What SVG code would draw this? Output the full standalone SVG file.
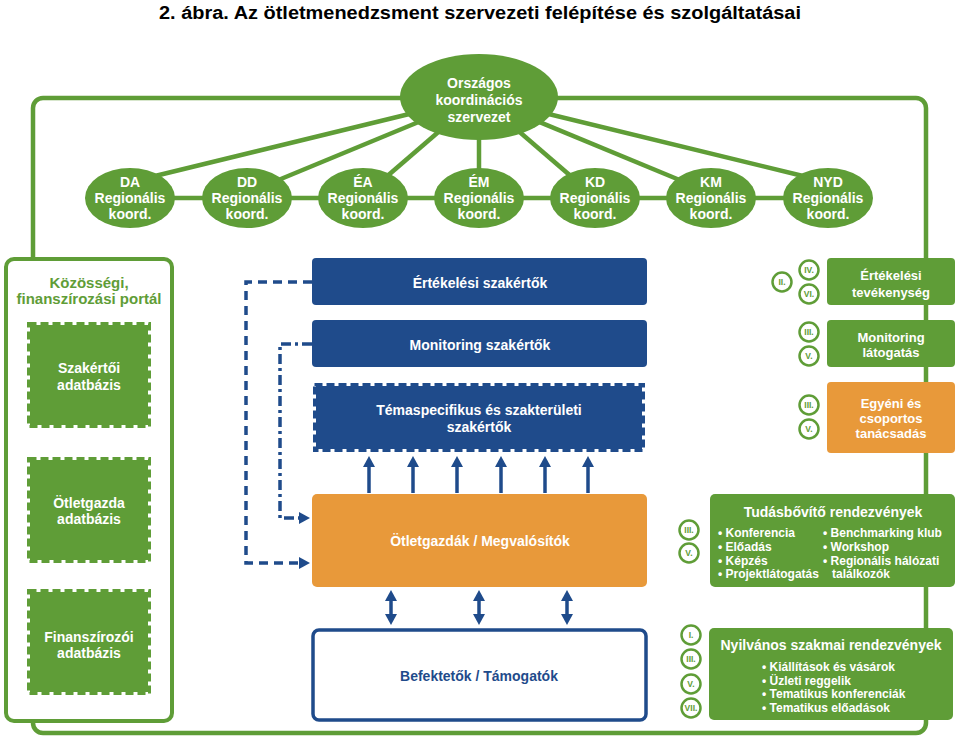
<svg xmlns="http://www.w3.org/2000/svg" width="960" height="741" viewBox="0 0 960 741">
<defs>
<style>
.t{font-family:"Liberation Sans",Arial,sans-serif;font-weight:bold;text-anchor:middle;fill:#fff}
.tl{font-family:"Liberation Sans",Arial,sans-serif;font-weight:bold;fill:#fff}
.gf{fill:#5f9d37}
.bf{fill:#1f4b8b}
.of{fill:#e8993a}
.ray{stroke:#5f9d37;stroke-width:4.5;fill:none}
.sb{fill:none;stroke-width:3;stroke-dasharray:8 4}
.num circle{fill:#fff;stroke:#5f9d37;stroke-width:2.5}
.num text{font-family:"Liberation Sans",Arial,sans-serif;font-weight:bold;font-size:8.5px;fill:#5f9d37;text-anchor:middle}
.con{stroke:#1f4b8b;stroke-width:3.5;fill:none}
</style>
<marker id="ah" markerUnits="userSpaceOnUse" markerWidth="11" markerHeight="12" viewBox="0 0 11 12" refX="0" refY="6" orient="auto-start-reverse">
<path d="M0,0 L11,6 L0,12 Z" fill="#1f4b8b"/>
</marker>
</defs>

<rect width="960" height="741" fill="#fff"/>

<text x="480" y="19" font-family="'Liberation Sans',Arial,sans-serif" font-weight="bold" font-size="18" text-anchor="middle" textLength="642" lengthAdjust="spacingAndGlyphs" fill="#000">2. ábra. Az ötletmenedzsment szervezeti felépítése és szolgáltatásai</text>

<g id="frame">
<rect x="33" y="98" width="893" height="635" rx="10" class="ray"/>
</g>

<g id="connectors">
<line class="ray" x1="479" y1="97" x2="155" y2="176"/>
<line class="ray" x1="479" y1="97" x2="276" y2="181"/>
<line class="ray" x1="479" y1="97" x2="385" y2="178"/>
<line class="ray" x1="479" y1="97" x2="479" y2="178"/>
<line class="ray" x1="479" y1="97" x2="573" y2="178"/>
<line class="ray" x1="479" y1="97" x2="682" y2="181"/>
<line class="ray" x1="479" y1="97" x2="803" y2="176"/>
<line class="ray" x1="130" y1="198" x2="828" y2="198"/>
<path class="con" d="M312,282 H246 V563 H299" stroke-dasharray="9 6" marker-end="url(#ah)"/>
<path class="con" d="M312,344 H280 V518 H299" stroke-dasharray="10 4 3 4" marker-end="url(#ah)"/>
<line class="con" x1="369" y1="493" x2="369" y2="467" marker-end="url(#ah)"/>
<line class="con" x1="413" y1="493" x2="413" y2="467" marker-end="url(#ah)"/>
<line class="con" x1="457" y1="493" x2="457" y2="467" marker-end="url(#ah)"/>
<line class="con" x1="501" y1="493" x2="501" y2="467" marker-end="url(#ah)"/>
<line class="con" x1="545" y1="493" x2="545" y2="467" marker-end="url(#ah)"/>
<line class="con" x1="588" y1="493" x2="588" y2="467" marker-end="url(#ah)"/>
<line class="con" x1="391" y1="601" x2="391" y2="614" marker-start="url(#ah)" marker-end="url(#ah)"/>
<line class="con" x1="479" y1="601" x2="479" y2="614" marker-start="url(#ah)" marker-end="url(#ah)"/>
<line class="con" x1="567" y1="601" x2="567" y2="614" marker-start="url(#ah)" marker-end="url(#ah)"/>
</g>

<g id="orszagos">
<ellipse class="gf" cx="479" cy="97" rx="79" ry="43"/>
<text class="t" font-size="14" x="479" y="88">Országos</text>
<text class="t" font-size="14" x="479" y="105">koordinációs</text>
<text class="t" font-size="14" x="479" y="122">szervezet</text>
</g>

<g id="reg-da"><ellipse class="gf" cx="130" cy="198" rx="45" ry="30"/>
<text class="t" font-size="14" x="130" y="187">DA</text><text class="t" font-size="14" x="130" y="203">Regionális</text><text class="t" font-size="14" x="130" y="219">koord.</text></g>
<g id="reg-dd"><ellipse class="gf" cx="247" cy="198" rx="45" ry="30"/>
<text class="t" font-size="14" x="247" y="187">DD</text><text class="t" font-size="14" x="247" y="203">Regionális</text><text class="t" font-size="14" x="247" y="219">koord.</text></g>
<g id="reg-ea"><ellipse class="gf" cx="363" cy="198" rx="45" ry="30"/>
<text class="t" font-size="14" x="363" y="187">ÉA</text><text class="t" font-size="14" x="363" y="203">Regionális</text><text class="t" font-size="14" x="363" y="219">koord.</text></g>
<g id="reg-em"><ellipse class="gf" cx="479" cy="198" rx="45" ry="30"/>
<text class="t" font-size="14" x="479" y="187">ÉM</text><text class="t" font-size="14" x="479" y="203">Regionális</text><text class="t" font-size="14" x="479" y="219">koord.</text></g>
<g id="reg-kd"><ellipse class="gf" cx="595" cy="198" rx="45" ry="30"/>
<text class="t" font-size="14" x="595" y="187">KD</text><text class="t" font-size="14" x="595" y="203">Regionális</text><text class="t" font-size="14" x="595" y="219">koord.</text></g>
<g id="reg-km"><ellipse class="gf" cx="711" cy="198" rx="45" ry="30"/>
<text class="t" font-size="14" x="711" y="187">KM</text><text class="t" font-size="14" x="711" y="203">Regionális</text><text class="t" font-size="14" x="711" y="219">koord.</text></g>
<g id="reg-nyd"><ellipse class="gf" cx="828" cy="198" rx="45" ry="30"/>
<text class="t" font-size="14" x="828" y="187">NYD</text><text class="t" font-size="14" x="828" y="203">Regionális</text><text class="t" font-size="14" x="828" y="219">koord.</text></g>

<g id="portal">
<rect x="6" y="259" width="166" height="462" rx="8" fill="#fff" stroke="#5f9d37" stroke-width="4"/>
<text class="t" font-size="15" x="89" y="288" style="fill:#5f9d37">Közösségi,</text>
<text class="t" font-size="15" x="89" y="304" style="fill:#5f9d37">finanszírozási portál</text>
</g>
<g id="szakertoi-db">
<rect class="gf" x="30" y="325" width="118" height="100"/>
<rect class="sb" x="28.5" y="323.5" width="121" height="103" stroke="#5f9d37"/>
<text class="t" font-size="14" x="89" y="373">Szakértői</text>
<text class="t" font-size="14" x="89" y="390">adatbázis</text>
</g>
<g id="otletgazda-db">
<rect class="gf" x="30" y="460" width="118" height="100"/>
<rect class="sb" x="28.5" y="458.5" width="121" height="103" stroke="#5f9d37"/>
<text class="t" font-size="14" x="89" y="508">Ötletgazda</text>
<text class="t" font-size="14" x="89" y="524">adatbázis</text>
</g>
<g id="finanszirozoi-db">
<rect class="gf" x="30" y="592" width="118" height="100"/>
<rect class="sb" x="28.5" y="590.5" width="121" height="103" stroke="#5f9d37"/>
<text class="t" font-size="14" x="89" y="642">Finanszírozói</text>
<text class="t" font-size="14" x="89" y="658">adatbázis</text>
</g>

<g id="ertekelesi-szakertok">
<rect class="bf" x="312" y="258" width="335" height="47" rx="4"/>
<text class="t" font-size="14" x="480" y="288">Értékelési szakértők</text>
</g>
<g id="monitoring-szakertok">
<rect class="bf" x="312" y="320" width="335" height="47" rx="4"/>
<text class="t" font-size="14" x="480" y="350">Monitoring szakértők</text>
</g>
<g id="temaspecifikus">
<rect class="bf" x="316" y="386" width="326" height="63"/>
<rect class="sb" x="314.5" y="384.5" width="329" height="66" stroke="#1f4b8b"/>
<text class="t" font-size="14" x="479" y="415">Témaspecifikus és szakterületi</text>
<text class="t" font-size="14" x="479" y="432">szakértők</text>
</g>
<g id="otletgazdak">
<rect class="of" x="312" y="494" width="335" height="93" rx="5"/>
<text class="t" font-size="14" x="480" y="546">Ötletgazdák / Megvalósítók</text>
</g>
<g id="befektetok">
<rect x="313" y="630" width="333" height="90" rx="6" fill="#fff" stroke="#1f4b8b" stroke-width="3.5"/>
<text class="t" font-size="14" x="479" y="681" style="fill:#1f4b8b">Befektetők / Támogatók</text>
</g>

<g id="ertekelesi-tevekenyseg">
<rect class="gf" x="827" y="258" width="128" height="47" rx="4"/>
<text class="t" font-size="13" x="891" y="280">Értékelési</text>
<text class="t" font-size="13" x="891" y="297">tevékenység</text>
<g class="num"><circle cx="782" cy="282" r="9.5"/><text x="782" y="285">II.</text>
<circle cx="809" cy="270" r="9.5"/><text x="809" y="273">IV.</text>
<circle cx="809" cy="294" r="9.5"/><text x="809" y="297">VI.</text></g>
</g>
<g id="monitoring-latogatas">
<rect class="gf" x="827" y="320" width="128" height="47" rx="4"/>
<text class="t" font-size="13" x="891" y="342">Monitoring</text>
<text class="t" font-size="13" x="891" y="357">látogatás</text>
<g class="num"><circle cx="809" cy="332" r="9.5"/><text x="809" y="335">III.</text>
<circle cx="809" cy="356" r="9.5"/><text x="809" y="359">V.</text></g>
</g>
<g id="tanacsadas">
<rect class="of" x="827" y="382" width="128" height="71" rx="4"/>
<text class="t" font-size="13" x="891" y="408">Egyéni és</text>
<text class="t" font-size="13" x="891" y="423">csoportos</text>
<text class="t" font-size="13" x="891" y="438">tanácsadás</text>
<g class="num"><circle cx="809" cy="405" r="9.5"/><text x="809" y="408">III.</text>
<circle cx="809" cy="429" r="9.5"/><text x="809" y="432">V.</text></g>
</g>
<g id="tudasbovito">
<rect class="gf" x="710" y="494" width="245" height="93" rx="5"/>
<text class="t" font-size="14" x="833" y="517">Tudásbővítő rendezvények</text>
<text class="tl" font-size="12" x="718" y="537">• Konferencia</text>
<text class="tl" font-size="12" x="718" y="551">• Előadás</text>
<text class="tl" font-size="12" x="718" y="565">• Képzés</text>
<text class="tl" font-size="12" x="718" y="578">• Projektlátogatás</text>
<text class="tl" font-size="12" x="823" y="537">• Benchmarking klub</text>
<text class="tl" font-size="12" x="823" y="551">• Workshop</text>
<text class="tl" font-size="12" x="823" y="565">• Regionális hálózati</text>
<text class="tl" font-size="12" x="832" y="578">találkozók</text>
<g class="num"><circle cx="689" cy="530" r="9.5"/><text x="689" y="533">III.</text>
<circle cx="689" cy="553" r="9.5"/><text x="689" y="556">V.</text></g>
</g>
<g id="nyilvanos">
<rect class="gf" x="709" y="628" width="244" height="92" rx="5"/>
<text class="t" font-size="14" x="831" y="650">Nyilvános szakmai rendezvények</text>
<text class="tl" font-size="12" x="762" y="671">• Kiállítások és vásárok</text>
<text class="tl" font-size="12" x="762" y="685">• Üzleti reggelik</text>
<text class="tl" font-size="12" x="762" y="698">• Tematikus konferenciák</text>
<text class="tl" font-size="12" x="762" y="712">• Tematikus előadások</text>
<g class="num"><circle cx="691" cy="635" r="9.5"/><text x="691" y="638">I.</text>
<circle cx="691" cy="659" r="9.5"/><text x="691" y="662">III.</text>
<circle cx="691" cy="684" r="9.5"/><text x="691" y="687">V.</text>
<circle cx="691" cy="708" r="9.5"/><text x="691" y="711">VII.</text></g>
</g>
</svg>
